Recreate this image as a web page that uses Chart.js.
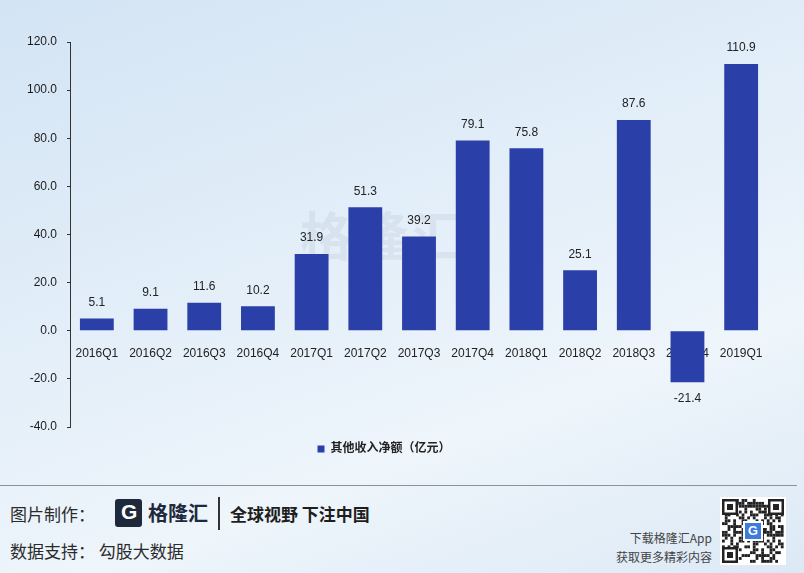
<!DOCTYPE html>
<html>
<head>
<meta charset="utf-8">
<script src="https://cdn.jsdelivr.net/npm/chart.js@4.4.0/dist/chart.umd.min.js"></script>
<style>
  html, body { margin: 0; padding: 0; }
  body {
    width: 804px; height: 573px; overflow: hidden; position: relative;
    font-family: "Liberation Sans", "Noto Sans CJK SC", sans-serif;
    background: linear-gradient(160deg, #d3e4f4 0%, #e4eff9 45%, #eef5fb 70%, #dce9f5 100%);
  }
  #wrap { position: absolute; left: 0; top: 0; width: 804px; height: 480px; }
  #mark {
    position: absolute; left: 300px; top: 196px; font-size: 52px; font-weight: bold;
    color: rgba(120, 130, 160, 0.10); font-family: "Noto Sans CJK SC", sans-serif; letter-spacing: 4px;
  }
  .foot { position: absolute; font-family: "Noto Sans CJK SC", sans-serif; color: #2b2b2b; white-space: nowrap; }
  #sep { position: absolute; left: 0; top: 485px; width: 797px; height: 1px; background: #8b929c; }
  #logo { position: absolute; left: 115px; top: 499px; width: 27px; height: 28px; background: #1e2a3c; border-radius: 3px; }
  #logo::after { content: "G"; position: absolute; left: 6px; top: 1px; color: #fff; font: bold 21px "Liberation Sans", sans-serif; }
  #vbar { position: absolute; left: 218px; top: 497px; width: 1.5px; height: 33px; background: #333; }
  #qr { position: absolute; left: 720px; top: 497px; }
</style>
</head>
<body>
<div id="mark">格隆汇</div>
<div id="wrap"><canvas id="chart"></canvas></div>

<div id="sep"></div>
<div class="foot" style="left:10px; top:501px; font-size:17px;">图片制作：</div>
<div id="logo"></div>
<div class="foot" style="left:148px; top:498px; font-size:20px; font-weight:bold; color:#1e2a3c;">格隆汇</div>
<div id="vbar"></div>
<div class="foot" style="left:230px; top:501px; font-size:17px; font-weight:bold; color:#1e1e1e;">全球视野 下注中国</div>
<div class="foot" style="left:10px; top:538px; font-size:17px;">数据支持：&nbsp;勾股大数据</div>
<div class="foot" style="right:92px; top:529px; font-size:12px; color:#444; text-align:right;">下载格隆汇App</div>
<div class="foot" style="right:92px; top:548px; font-size:12px; color:#444; text-align:right;">获取更多精彩内容</div>
<canvas id="qr" width="66" height="68"></canvas>

<script>
const categories = ["2016Q1","2016Q2","2016Q3","2016Q4","2017Q1","2017Q2","2017Q3","2017Q4","2018Q1","2018Q2","2018Q3","2018Q4","2019Q1"];
const netIncome = [5.1, 9.1, 11.6, 10.2, 31.9, 51.3, 39.2, 79.1, 75.8, 25.1, 87.6, -21.4, 110.9];
const seriesName = "其他收入净额（亿元）";
const yTicks = { min: -40, max: 120, step: 20 };

const FONT = "'Liberation Sans', 'Noto Sans CJK SC', sans-serif";

const valueLabels = {
  id: "valueLabels",
  afterDatasetsDraw(chart) {
    const ctx = chart.ctx;
    const meta = chart.getDatasetMeta(0);
    ctx.save();
    ctx.font = "12px " + FONT;
    ctx.fillStyle = "#222";
    ctx.textAlign = "center";
    ctx.textBaseline = "middle";
    meta.data.forEach((bar, i) => {
      const v = netIncome[i];
      const y = v >= 0 ? bar.y - 16 : bar.y + 16;
      ctx.fillText(v.toFixed(1), bar.x, y);
    });
    ctx.restore();
  }
};

new Chart(document.getElementById("chart"), {
  type: "bar",
  data: {
    labels: categories,
    datasets: [{
      label: seriesName,
      data: netIncome,
      backgroundColor: "#2b3fa8",
      barPercentage: 0.63,
      categoryPercentage: 1
    }]
  },
  options: {
    responsive: true,
    maintainAspectRatio: false,
    animation: false,
    layout: { padding: { top: 42, left: 0, right: 36, bottom: 15 } },
    plugins: {
      tooltip: { enabled: false },
      legend: {
        position: "bottom",
        labels: {
          boxWidth: 7, boxHeight: 7, padding: 16,
          color: "#222",
          font: { family: FONT, size: 12, weight: "bold" }
        }
      }
    },
    scales: {
      x: {
        position: { y: 0 },
        grid: { display: false },
        border: { display: false },
        ticks: { color: "#222", padding: 8, font: { family: FONT, size: 12 }, maxRotation: 0, autoSkip: false }
      },
      y: {
        min: yTicks.min, max: yTicks.max,
        afterFit(scale) { scale.width = 70; },
        grid: { drawOnChartArea: false, tickLength: 3, color: "#333" },
        border: { color: "#333" },
        ticks: {
          stepSize: yTicks.step, padding: 10, color: "#1a1a1a",
          font: { family: FONT, size: 12 },
          callback: v => Number(v).toFixed(1)
        }
      }
    }
  },
  plugins: [valueLabels]
});

// decorative QR-like block
(function () {
  const c = document.getElementById("qr").getContext("2d");
  c.fillStyle = "#fff"; c.fillRect(0, 0, 66, 68);
  const seed = "格隆汇App下载获取更多精彩内容gelonghui";
  c.fillStyle = "#222";
  for (let r = 0; r < 22; r++) for (let k = 0; k < 22; k++) {
    const code = seed.charCodeAt((r * 7 + k * 3) % seed.length);
    if (((code >> ((r + k) % 5)) ^ (r * k)) & 1) c.fillRect(2 + k * 2.8, 2 + r * 2.9, 2.8, 2.9);
  }
  const finder = (x, y) => {
    c.fillStyle = "#222"; c.fillRect(x, y, 16, 16);
    c.fillStyle = "#fff"; c.fillRect(x + 2.5, y + 2.5, 11, 11);
    c.fillStyle = "#222"; c.fillRect(x + 5, y + 5, 6, 6);
  };
  finder(2, 2); finder(48, 2); finder(2, 50);
  c.fillStyle = "#fff"; c.fillRect(23, 24, 20, 20);
  c.fillStyle = "#3d7be0"; c.fillRect(25, 26, 16, 16);
  c.fillStyle = "#fff"; c.font = "bold 13px 'Liberation Sans'"; c.textAlign = "center"; c.textBaseline = "middle";
  c.fillText("G", 33, 34.5);
})();
</script>
</body>
</html>
